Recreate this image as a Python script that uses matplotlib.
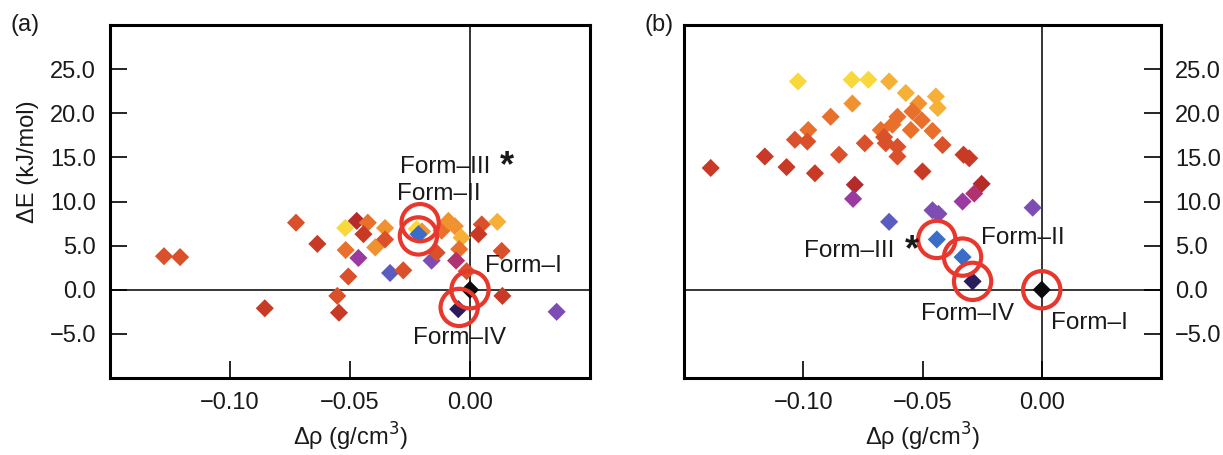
import matplotlib.pyplot as plt

plt.rcParams['font.family'] = ['Liberation Sans', 'DejaVu Sans']

# colour steps used by the diamonds (dark -> light)
palette = ['#0a0a0a', '#2b1c5c', '#3a6dc8', '#5b5cc0', '#7d4db4', '#9a3aa0',
           '#b03270', '#b52a2a', '#c93a26', '#d9502a', '#e8702c', '#f0922f',
           '#f6b035', '#f8d83a']

# panel (a)
a_drho = [-0.1275, -0.1208, -0.0725, -0.0636, -0.0855, -0.0520, -0.0472, -0.0426,
          -0.0444, -0.0518, -0.0465, -0.0507, -0.0553, -0.0546, -0.0395, -0.0354,
          -0.0354, -0.0333, -0.0278, -0.0222, -0.0200, -0.0160, -0.0139, -0.0118,
          -0.0090, -0.0063, -0.0035, -0.0045, -0.0058, 0.0049, 0.0035, 0.0114,
          0.0132, 0.0135, 0.0361, -0.0014, -0.0215, -0.0049, 0.0]
a_dE = [3.8, 3.7, 7.6, 5.2, -2.1, 7.0, 7.8, 7.6,
        6.3, 4.5, 3.6, 1.5, -0.7, -2.6, 4.8, 7.0,
        5.7, 1.9, 2.2, 6.9, 6.6, 3.3, 4.2, 6.7,
        7.8, 7.2, 5.9, 4.6, 3.3, 7.4, 6.3, 7.7,
        4.4, -0.7, -2.5, 2.1, 6.3, -2.2, 0.0]
a_col = [9, 9, 9, 8, 8, 13, 7, 10,
         8, 10, 5, 9, 9, 8, 11, 11,
         9, 3, 9, 13, 11, 4, 9, 10,
         11, 11, 12, 10, 6, 9, 8, 12,
         9, 8, 4, 9, 2, 1, 0]
a_circ_x = [-0.0208, -0.0215, 0.0, -0.0045]
a_circ_y = [7.6, 6.1, 0.0, -2.0]
a_labels = ['Form–III', 'Form–II', 'Form–I', 'Form–IV']
a_lab_x = [-0.0292, -0.0305, 0.0063, -0.0238]
a_lab_y = [13.9, 10.8, 2.7, -5.45]
a_star = (0.0125, 13.9)

# panel (b)
b_drho = [-0.1022, -0.0797, -0.0727, -0.0640, -0.0570, -0.0444, -0.0517, -0.0436,
          -0.0794, -0.0885, -0.0605, -0.0542, -0.0503, -0.0626, -0.0979, -0.0675,
          -0.0549, -0.0458, -0.1035, -0.0983, -0.0661, -0.0654, -0.0742, -0.0416,
          -0.0605, -0.0850, -0.0605, -0.1161, -0.0328, -0.0304, -0.1070, -0.1388,
          -0.0951, -0.0500, -0.0784, -0.0252, -0.0283, -0.0791, -0.0332, -0.0038,
          -0.0458, -0.0433, -0.0640, -0.0440, -0.0332, -0.0290, 0.0]
b_dE = [23.6, 23.8, 23.8, 23.6, 22.3, 21.9, 21.1, 20.6,
        21.1, 19.6, 19.6, 20.2, 19.2, 18.7, 18.1, 18.1,
        18.1, 18.0, 17.0, 16.8, 17.3, 16.6, 16.6, 16.4,
        16.2, 15.3, 15.1, 15.1, 15.3, 14.9, 13.9, 13.8,
        13.2, 13.4, 11.9, 12.0, 10.9, 10.3, 10.0, 9.3,
        9.0, 8.6, 7.7, 5.7, 3.7, 0.95, 0.0]
b_col = [13, 13, 13, 12, 12, 12, 11, 12,
         11, 10, 10, 10, 10, 10, 10, 10,
         10, 10, 9, 9, 9, 9, 9, 9,
         9, 9, 9, 8, 8, 8, 8, 8,
         8, 8, 7, 7, 6, 5, 5, 4,
         4, 4, 3, 2, 2, 1, 0]
b_circ_x = [-0.0440, -0.0332, -0.0290, 0.0]
b_circ_y = [5.7, 3.7, 0.95, 0.0]
b_labels = ['Form–III', 'Form–II', 'Form–IV', 'Form–I']
b_lab_x = [-0.0997, -0.0255, -0.0507, 0.0040]
b_lab_y = [4.4, 5.9, -2.8, -3.75]
b_star = (-0.0575, 4.4)

yticks = [-5, 0, 5, 10, 15, 20, 25]
xticks = [-0.10, -0.05, 0.00]

fig = plt.figure(figsize=(12.23, 4.55), dpi=100)
ax_a = fig.add_axes([110 / 1223, 77 / 455, 480 / 1223, 353 / 455])
ax_b = fig.add_axes([684 / 1223, 77 / 455, 477 / 1223, 353 / 455])

txt = '#1a1a1a'


def draw_panel(ax, xs, ys, cols, cx, cy, labels, lx, ly, star, side):
    ax.axhline(0, color='black', lw=1.1, zorder=1)
    ax.axvline(0, color='black', lw=1.1, zorder=1)
    ax.scatter(xs, ys, c=[palette[i] for i in cols], marker='D', s=85,
               linewidths=0, zorder=2)
    ax.scatter(cx, cy, s=720, facecolors='none', edgecolors='#e8372c',
               linewidths=3.0, zorder=3)
    for t, x, y in zip(labels, lx, ly):
        ax.text(x, y, t, fontsize=17.5, color=txt, ha='left', va='center', zorder=4)
    ax.text(star[0], star[1], '*', fontsize=26, fontweight='bold', color=txt,
            ha='left', va='center', zorder=4)
    ax.set_xlim(-0.15, 0.05)
    ax.set_ylim(-10, 30)
    ax.set_xticks(xticks)
    ax.set_xticklabels(['−0.10', '−0.05', '0.00'])
    ax.set_yticks(yticks)
    ax.set_yticklabels([f'{v:.1f}'.replace('-', '−') for v in yticks])
    ax.tick_params(direction='in', length=12, width=1.2, labelsize=17,
                   labelcolor=txt, pad=10)
    if side == 'right':
        ax.yaxis.tick_right()
        ax.tick_params(axis='y', direction='in', length=12, width=1.2, pad=10)
    for sp in ax.spines.values():
        sp.set_linewidth(2.2)
    ax.set_xlabel('Δρ (g/cm$^3$)', fontsize=17, color=txt, labelpad=5)


draw_panel(ax_a, a_drho, a_dE, a_col, a_circ_x, a_circ_y,
           a_labels, a_lab_x, a_lab_y, a_star, 'left')
draw_panel(ax_b, b_drho, b_dE, b_col, b_circ_x, b_circ_y,
           b_labels, b_lab_x, b_lab_y, b_star, 'right')

fig.text(28 / 1223, 1 - 162 / 455, 'ΔE (kJ/mol)', rotation=90, fontsize=17,
         color=txt, ha='center', va='center')
fig.text(10 / 1223, 1 - 25 / 455, '(a)', fontsize=17, color=txt, va='center')
fig.text(645 / 1223, 1 - 25 / 455, '(b)', fontsize=17, color=txt, va='center')

fig.savefig('out.png', dpi=100)
